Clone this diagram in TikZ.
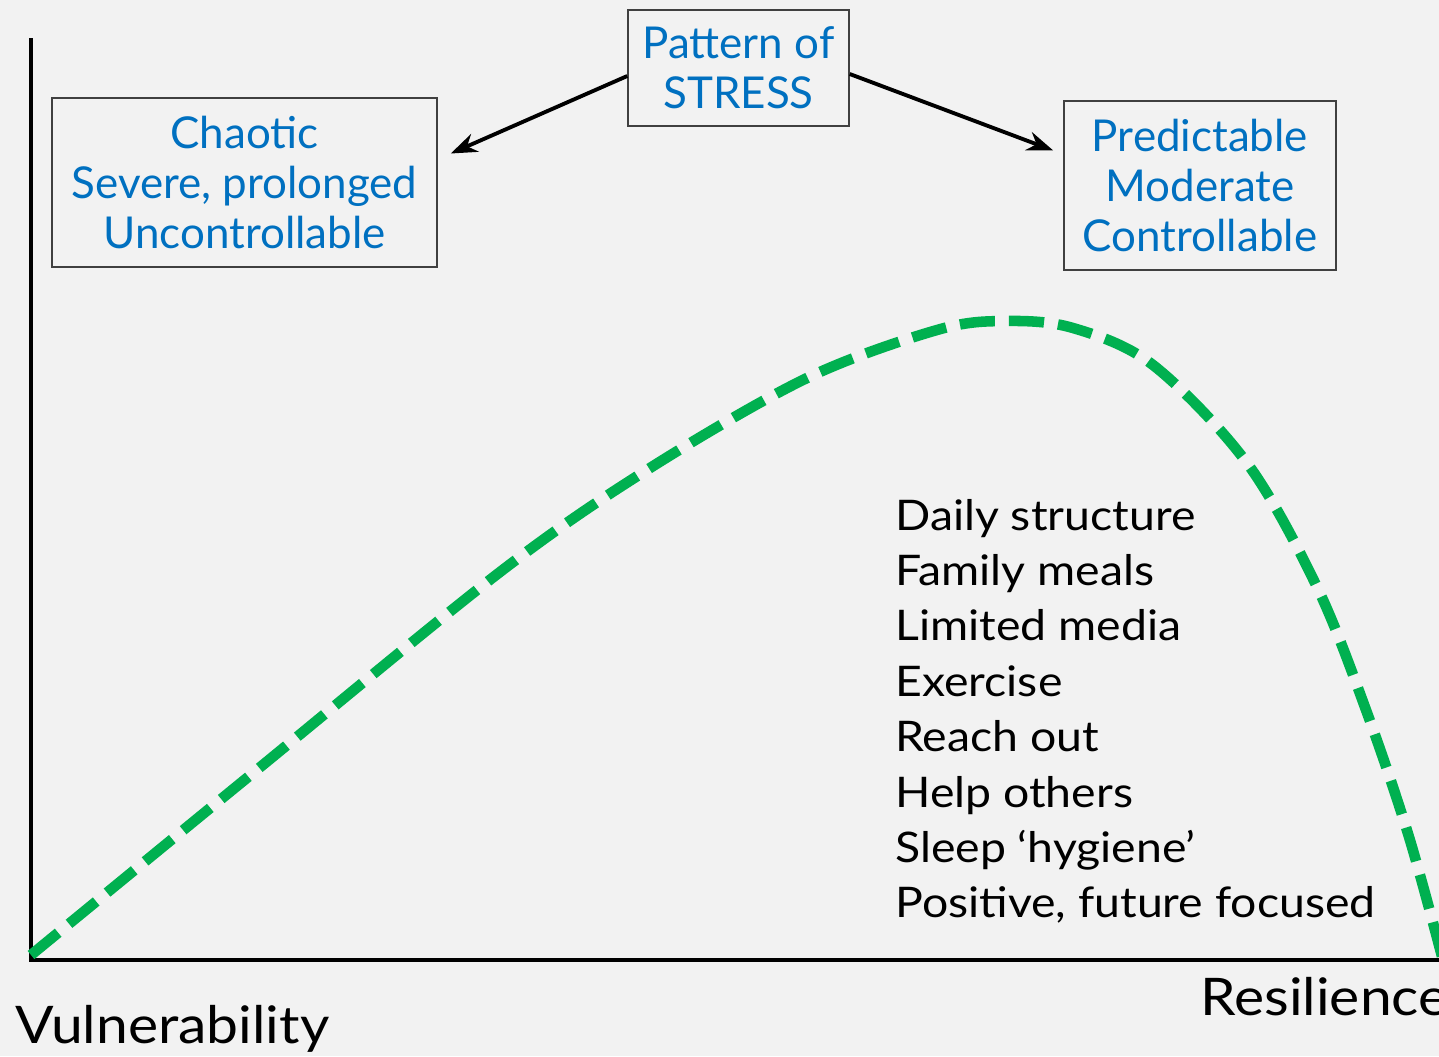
\documentclass[tikz,border=0pt]{standalone}
\usepackage{fontspec}
\setmainfont{Lato}
\newfontfamily\widefont{Lato}[Ligatures=TeX, FakeStretch=1.1]
\usetikzlibrary{arrows.meta,positioning}
\definecolor{stressblue}{RGB}{0,112,192}
\definecolor{curvegreen}{RGB}{0,176,80}
\definecolor{bggray}{RGB}{242,242,242}

\begin{document}
\begin{tikzpicture}[x=0.02cm, y=-0.02cm,
		stressbox/.style={draw=black!75, line width=0.85pt, text=stressblue, align=center,
			inner sep=0pt, font=\fontsize{25}{28.35}\selectfont},
		listitem/.style={anchor=base west, inner sep=0pt, font=\widefont\fontsize{24}{28}\selectfont},
		axislabel/.style={anchor=base west, inner sep=0pt, font=\widefont\fontsize{29.5}{34}\selectfont},
		arr/.style={line width=2.2pt, -{Stealth[length=15pt, width=11pt]}}]

		% background and page size
		\fill[bggray] (0,0) rectangle (1439,1056);
		\useasboundingbox (0,0) rectangle (1439,1056);

		% axis
		\coordinate (ytop) at (31,38);
		\coordinate (origin) at (31,960);
		\coordinate (xend) at (1439,960);
		\draw[line width=2.3pt] (ytop) -- (origin) -- (xend);
		\node[axislabel] (vuln) at (15,1043) {Vulnerability};
		\node[axislabel] (resil) at (1200,1015) {Resilience};

		% curve
		\draw[curvegreen, line width=6pt, dash pattern=on 20pt off 8pt] plot[smooth, tension=0.55] coordinates {
			(31,955) (253,773) (500,572) (650,468) (807,378) (937,330) (1005,321)
			(1073,328) (1153,365) (1247,463) (1317,587) (1366,710)
			(1409,837) (1445,968)};

		% boxes
		\node[stressbox, minimum width=221*0.02cm, minimum height=116*0.02cm] (stress) at (738.5,68) {Pattern of\\STRESS};
		\node[stressbox, minimum width=385*0.02cm, minimum height=169*0.02cm] (chaotic) at (244.5,182.5) {Chaotic\\Severe, prolonged\\Uncontrollable};
		\node[stressbox, minimum width=272*0.02cm, minimum height=169*0.02cm] (predict) at (1200,185.5) {Predictable\\Moderate\\Controllable};

		\draw[arr] ([shift={(0,8)}]stress.west) -- ([shift={(13,-29)}]chaotic.east);
		\draw[arr] ([shift={(0,6)}]stress.east) -- ([shift={(-10,-35)}]predict.west);

		% list of helps
		\foreach \txt [count=\i] in {Daily structure, Family meals, Limited media, Exercise,
			Reach out, Help others, Sleep ‘hygiene’, {Positive, future focused}}{
			\node[listitem] (item\i) at (895,{530+(\i-1)*55.4}) {\txt};
		}

	\end{tikzpicture}
\end{document}
